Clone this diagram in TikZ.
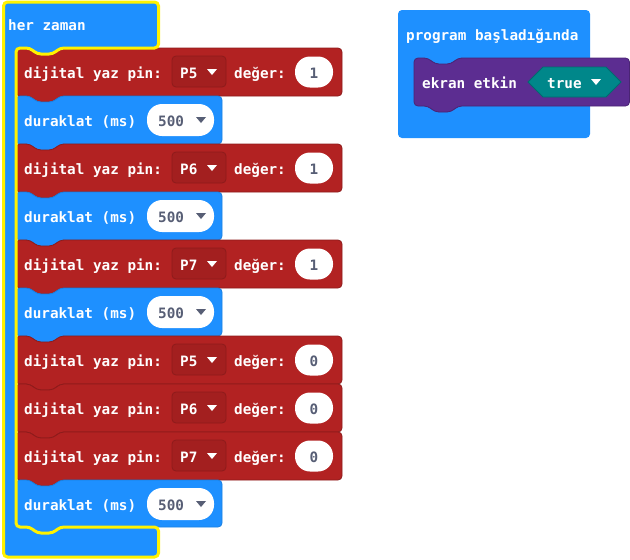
\documentclass[tikz,border=0pt]{standalone}
\usepackage{fontspec}
\newfontfamily\blockfont{DejaVu Sans Mono}
\definecolor{loopblue}{HTML}{1E90FF}
\definecolor{loopedge}{HTML}{1A7FE0}
\definecolor{pinred}{HTML}{B22222}
\definecolor{pinedge}{HTML}{8E1B1B}
\definecolor{dropfill}{HTML}{A31F1F}
\definecolor{ledpurple}{HTML}{5C2D91}
\definecolor{lededge}{HTML}{4A2474}
\definecolor{logicteal}{HTML}{00878A}
\definecolor{logicedge}{HTML}{006B6E}
\definecolor{selyellow}{HTML}{FFF200}
\definecolor{valgray}{HTML}{575E75}

\tikzset{
  lbl/.style={text=white, font=\blockfont\bfseries\fontsize{14.3}{16}\selectfont, inner sep=0pt, anchor=base west},
  valtxt/.style={text=valgray, font=\blockfont\bfseries\fontsize{14.3}{16}\selectfont, inner sep=0pt, anchor=base},
  blockshape/.style={rounded corners=4pt, line width=0.8pt},
  pinblock/.style={blockshape, fill=pinred, draw=pinedge},
  pauseblock/.style={blockshape, fill=loopblue, draw=loopedge},
  ledblock/.style={blockshape, fill=ledpurple, draw=lededge},
  dropbox/.style={fill=dropfill, draw=pinedge, line width=0.8pt, rounded corners=4pt},
  valoval/.style={fill=white, rounded corners=15pt},
  caret/.style={fill=#1},
  selection/.style={draw=selyellow, line width=3pt, rounded corners=4pt}
}

% statement block with a notch on top and a tab below: style, left, top, right, bottom
\newcommand\stmtblock[5]{%
  \draw[#1] (#2,#3) -- (#2+14,#3) -- (#2+21,#3+6) -- (#2+37,#3+6) -- (#2+44,#3)
    -- (#4,#3) -- (#4,#5) -- (#2+44,#5) -- (#2+37,#5+6) -- (#2+21,#5+6)
    -- (#2+14,#5) -- (#2,#5) -- cycle;}

% "dijital yaz pin" block: name, top, pin, value
\newcommand\pinwrite[4]{%
  \stmtblock{pinblock}{16}{#2}{342}{#2+48}
  \node[lbl] (#1-lbl) at (24,#2+30) {dijital yaz pin:};
  \draw[dropbox] (172,#2+8) rectangle (226,#2+39);
  \node[lbl] (#1-pin) at (180,#2+30) {#3};
  \fill[white] (207,#2+21) -- (217,#2+21) -- (212,#2+27) -- cycle;
  \node[lbl] (#1-val) at (234,#2+30) {değer:};
  \fill[valoval] (295,#2+8.5) rectangle (333,#2+39.5);
  \node[valtxt] (#1-num) at (314,#2+30) {#4};}

% "duraklat" block: name, top, bottom
\newcommand\pauseblk[3]{%
  \stmtblock{pauseblock}{16}{#2}{222}{#3}
  \node[lbl] (#1-lbl) at (24,#2+30) {duraklat (ms)};
  \fill[valoval] (147,#2+8) rectangle (214,#2+40);
  \node[valtxt, anchor=base west] (#1-ms) at (158,#2+30) {500};
  \fill[valgray] (196,#2+21) -- (206,#2+21) -- (201,#2+27) -- cycle;}

\begin{document}
\begin{tikzpicture}[x=1pt, y=-1pt]
\useasboundingbox (0,0) rectangle (630,560);

% forever loop body
\fill[loopblue, rounded corners=4pt] (3.5,2) -- (158.5,2) -- (158.5,48) -- (60,48) -- (53,54)
  -- (37,54) -- (30,48) -- (16,48) -- (16,527) -- (30,527) -- (37,533) -- (53,533)
  -- (60,527) -- (158.5,527) -- (158.5,557) -- (3.5,557) -- cycle;
\node[lbl] (forever) at (8,30) {her zaman};

\pinwrite{w1}{48}{P5}{1}
\pauseblk{p1}{96}{144}
\pinwrite{w2}{144}{P6}{1}
\pauseblk{p2}{192}{240}
\pinwrite{w3}{240}{P7}{1}
\pauseblk{p3}{288}{336}
\pinwrite{w4}{336}{P5}{0}
\pinwrite{w5}{384}{P6}{0}
\pinwrite{w6}{432}{P7}{0}
\pauseblk{p4}{480}{527}

% selection outline of the forever loop
\draw[selection] (3.5,2) -- (158.5,2) -- (158.5,48) -- (60,48) -- (53,54)
  -- (37,54) -- (30,48) -- (16,48) -- (16,527) -- (30,527) -- (37,533) -- (53,533)
  -- (60,527) -- (158.5,527) -- (158.5,557) -- (3.5,557) -- cycle;

% on start block
\fill[loopblue, rounded corners=4pt] (398,10) rectangle (590,138);
\node[lbl] (onstart) at (406,40) {program başladığında};
\stmtblock{ledblock}{414}{58}{629.5}{106}
\node[lbl] (ledlbl) at (422,88) {ekran etkin};
\draw[fill=logicteal, draw=logicedge, line width=0.8pt] (528,82) -- (543,67) -- (606,67)
  -- (621,82) -- (606,97) -- (543,97) -- cycle;
\node[lbl] (truelbl) at (547,88) {true};
\fill[white] (591,79) -- (601,79) -- (596,85) -- cycle;
\end{tikzpicture}
\end{document}
